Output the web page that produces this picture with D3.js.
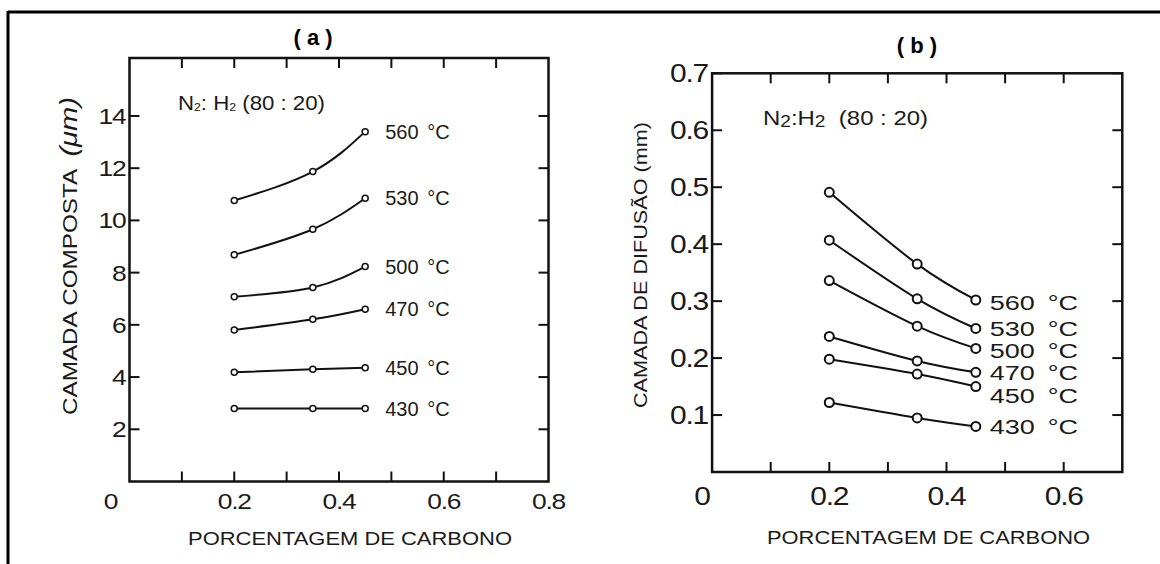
<!DOCTYPE html>
<html lang="pt">
<head>
<meta charset="UTF-8" />
<title>Camada composta e camada de difusão</title>
<script src="https://d3js.org/d3.v7.min.js"></script>
<style>
  body { margin: 0; background: #fff; }
  svg { display: block; font-family: "Liberation Sans", Arial, sans-serif; }
  .frame { stroke: #000; stroke-width: 3; }
  .box { fill: none; stroke: #111; stroke-width: 2.5; }
  .tick { stroke: #111; stroke-width: 2; }
  .curve { fill: none; stroke: #111; stroke-width: 2; }
  .pt { fill: #fff; stroke: #111; }
  .num, .lbl { fill: #1a1a1a; }
</style>
</head>
<body>
<svg id="chart" width="1160" height="564"></svg>
<script>
// ---- data ----
const carbon = [0.2, 0.35, 0.45];
const temps = ["560", "530", "500", "470", "450", "430"];

// (a) camada composta, µm
const compostaVals = [
  [10.76, 11.87, 13.40],
  [8.68, 9.66, 10.85],
  [7.08, 7.43, 8.23],
  [5.80, 6.21, 6.60],
  [4.18, 4.30, 4.36],
  [2.80, 2.80, 2.80]
];
// (b) camada de difusão, mm
const difusaoVals = [
  [0.491, 0.365, 0.302],
  [0.407, 0.304, 0.252],
  [0.336, 0.256, 0.217],
  [0.238, 0.195, 0.175],
  [0.198, 0.172, 0.150],
  [0.122, 0.095, 0.080]
];

const yTicksA = [2, 4, 6, 8, 10, 12, 14];
const xLabelsA = [0, 0.2, 0.4, 0.6, 0.8];
const xMinorA = [0.1, 0.2, 0.3, 0.4, 0.5, 0.6, 0.7];
const yTicksB = [0.1, 0.2, 0.3, 0.4, 0.5, 0.6, 0.7];
const xLabelsB = [0, 0.2, 0.4, 0.6];
const xMinorB = [0.1, 0.2, 0.3, 0.4, 0.5, 0.6];

const svg = d3.select("#chart");

// the scan's lettering is wider than Arial, stretch it a bit
function widen(sel, f) {
  sel.each(function() {
    const w = this.getComputedTextLength();
    d3.select(this).attr("textLength", w * f).attr("lengthAdjust", "spacingAndGlyphs");
  });
}

// outer frame (top + left only, as in the scan)
svg.append("line").attr("class", "frame").attr("x1", 8).attr("y1", 12).attr("x2", 1160).attr("y2", 12);
svg.append("line").attr("class", "frame").attr("x1", 8).attr("y1", 11).attr("x2", 8).attr("y2", 564);

function panel(cfg) {
  const g = svg.append("g");
  const x = d3.scaleLinear().domain(cfg.xDomain).range([cfg.x0, cfg.x1]);
  const y = d3.scaleLinear().domain(cfg.yDomain).range([cfg.y1, cfg.y0]);
  const tl = 10;

  g.append("rect").attr("class", "box")
    .attr("x", cfg.x0).attr("y", cfg.y0)
    .attr("width", cfg.x1 - cfg.x0).attr("height", cfg.y1 - cfg.y0);

  // x ticks on top and bottom, pointing inward
  cfg.xMinor.forEach(v => {
    g.append("line").attr("class", "tick")
      .attr("x1", x(v)).attr("x2", x(v)).attr("y1", cfg.y0).attr("y2", cfg.y0 + tl);
    g.append("line").attr("class", "tick")
      .attr("x1", x(v)).attr("x2", x(v)).attr("y1", cfg.y1).attr("y2", cfg.y1 - tl);
  });
  // y ticks on left and right, pointing inward
  cfg.yTicks.forEach(v => {
    g.append("line").attr("class", "tick")
      .attr("x1", cfg.x0).attr("x2", cfg.x0 + tl).attr("y1", y(v)).attr("y2", y(v));
    g.append("line").attr("class", "tick")
      .attr("x1", cfg.x1).attr("x2", cfg.x1 - tl).attr("y1", y(v)).attr("y2", y(v));
  });

  // tick labels
  const yl = g.selectAll(".ylab").data(cfg.yTicks).join("text")
    .attr("class", "num")
    .attr("x", cfg.x0 - 4).attr("y", d => y(d)).attr("dy", "0.36em")
    .attr("text-anchor", "end")
    .style("font-size", cfg.numSize + "px")
    .style("letter-spacing", "-1px")
    .text(d => String(d));
  widen(yl, 1.2);

  const xl = g.selectAll(".xlab").data(cfg.xLabels).join("text")
    .attr("class", "num")
    .attr("x", d => x(d) + (d === 0 ? cfg.zeroShift : 0))
    .attr("y", cfg.y1 + cfg.xLabGap).attr("dy", "0.36em")
    .attr("text-anchor", "middle")
    .style("font-size", cfg.numSize + "px")
    .style("letter-spacing", "-1px")
    .text(d => String(d));
  widen(xl, 1.2);

  // curves
  const line = d3.line().curve(d3.curveNatural).x((d, i) => x(carbon[i])).y(d => y(d));
  cfg.values.forEach((vals, k) => {
    g.append("path").attr("class", "curve").attr("d", line(vals));
    g.selectAll(null).data(vals).join("circle")
      .attr("class", "pt")
      .attr("cx", (d, i) => x(carbon[i])).attr("cy", d => y(d))
      .attr("r", cfg.r).style("stroke-width", cfg.rStroke);

    const last = vals[vals.length - 1];
    const ly = y(last) + (cfg.labelNudge[temps[k]] || 0);
    const lx = x(carbon[carbon.length - 1]) + cfg.labGap;
    const t1 = g.append("text").attr("class", "lbl")
      .attr("x", lx).attr("y", ly).attr("dy", "0.36em")
      .style("font-size", cfg.labSize + "px")
      .text(temps[k]);
    const t2 = g.append("text").attr("class", "lbl")
      .attr("x", lx + cfg.degGap).attr("y", ly).attr("dy", "0.36em")
      .style("font-size", cfg.labSize + "px")
      .text("°C");
    widen(t1, cfg.labWiden);
    widen(t2, cfg.labWiden);
  });

  // panel title
  g.append("text")
    .attr("x", cfg.titleX).attr("y", cfg.titleY).attr("dy", "0.36em")
    .attr("text-anchor", "middle")
    .style("font-size", "22px").style("font-weight", "bold")
    .attr("xml:space", "preserve")
    .text(cfg.title);

  // gas ratio note
  const note = g.append("text")
    .attr("x", cfg.noteX).attr("y", cfg.noteY).attr("dy", "0.36em")
    .style("font-size", cfg.noteSize + "px").attr("fill", "#1a1a1a")
    .attr("xml:space", "preserve");
  note.append("tspan").text("N");
  note.append("tspan").attr("baseline-shift", "-12%").style("font-size", (cfg.noteSize * cfg.subScale) + "px").text("2");
  note.append("tspan").text(cfg.noteMid);
  note.append("tspan").attr("baseline-shift", "-12%").style("font-size", (cfg.noteSize * cfg.subScale) + "px").text("2");
  note.append("tspan").text(cfg.noteTail);
  note.attr("textLength", cfg.noteW).attr("lengthAdjust", "spacingAndGlyphs");

  // axis titles
  g.append("text")
    .attr("x", (cfg.xtA + cfg.xtB) / 2).attr("y", cfg.xtY).attr("dy", "0.36em")
    .attr("text-anchor", "middle")
    .attr("textLength", cfg.xtB - cfg.xtA).attr("lengthAdjust", "spacingAndGlyphs")
    .style("font-size", "19px").attr("fill", "#1a1a1a")
    .text("PORCENTAGEM DE CARBONO");

  const yt = g.append("text")
    .attr("transform", `translate(${cfg.ytX},${(cfg.ytA + cfg.ytB) / 2}) rotate(-90)`)
    .attr("dy", "0.36em")
    .attr("text-anchor", "middle")
    .attr("textLength", cfg.ytB - cfg.ytA).attr("lengthAdjust", "spacingAndGlyphs")
    .style("font-size", cfg.ytSize + "px").attr("fill", "#1a1a1a")
    .attr("xml:space", "preserve");
  yt.append("tspan").text(cfg.yTitle);
  yt.append("tspan")
    .style("font-style", cfg.unitItalic ? "italic" : "normal")
    .style("font-size", cfg.unitSize + "px")
    .text(cfg.yUnit);
}

panel({
  x0: 129.5, x1: 548.5, y0: 58, y1: 481.5,
  xDomain: [0, 0.8], yDomain: [0, 16.22],
  xMinor: xMinorA, yTicks: yTicksA, xLabels: xLabelsA,
  values: compostaVals,
  numSize: 22, zeroShift: -19, xLabGap: 20,
  r: 3, rStroke: 1.5,
  labSize: 20, labGap: 20, degGap: 42, labWiden: 1.0, labelNudge: {},
  title: "( a )", titleX: 313, titleY: 37,
  noteX: 178, noteY: 103, noteSize: 20, subScale: 0.55, noteW: 147, noteMid: ": H", noteTail: " (80 : 20)",
  xtA: 188, xtB: 512, xtY: 538,
  ytX: 70, ytA: 97, ytB: 415, ytSize: 20, unitSize: 24,
  yTitle: "CAMADA COMPOSTA  ", yUnit: "(μm)", unitItalic: true
});

panel({
  x0: 712.1, x1: 1122.3, y0: 73.3, y1: 472,
  xDomain: [0, 0.7], yDomain: [0, 0.7],
  xMinor: xMinorB, yTicks: yTicksB, xLabels: xLabelsB,
  values: difusaoVals,
  numSize: 25, zeroShift: -10, xLabGap: 24,
  r: 4.5, rStroke: 2,
  labSize: 20, labGap: 14, degGap: 58, labWiden: 1.35,
  labelNudge: { "560": 3, "500": 2.2, "470": 0.7, "450": 8.8 },
  title: "( b )", titleX: 917, titleY: 45,
  noteX: 763, noteY: 118, noteSize: 20, subScale: 0.8, noteW: 165, noteMid: ":H", noteTail: "  (80 : 20)",
  xtA: 767, xtB: 1090, xtY: 537,
  ytX: 640, ytA: 122, ytB: 408, ytSize: 19, unitSize: 19,
  yTitle: "CAMADA DE DIFUSÃO ", yUnit: "(mm)", unitItalic: false
});
</script>
</body>
</html>
